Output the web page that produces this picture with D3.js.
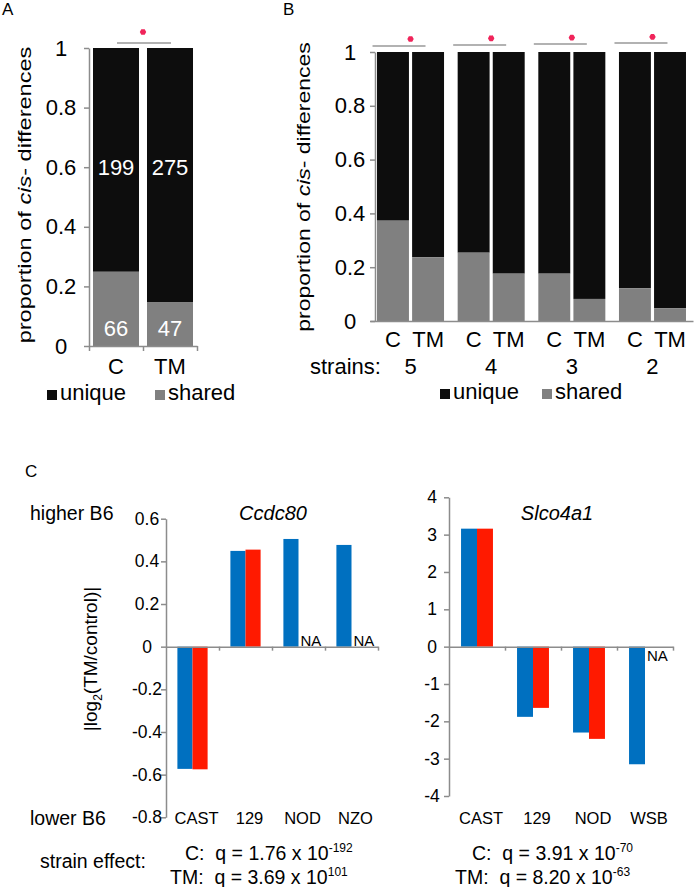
<!DOCTYPE html>
<html>
<head>
<meta charset="utf-8">
<script src="https://cdn.jsdelivr.net/npm/d3@7"></script>
<style>
  body { margin: 0; background: #fff; }
  svg { display: block; font-family: "Liberation Sans", Arial, sans-serif; }
  text { white-space: pre; }
</style>
</head>
<body>
<svg id="fig"></svg>
<script>
// ---- panel A: proportion of cis- differences, all strains
const A_CATS = ['C', 'TM'];
const A_UNIQUE = [199, 275];
const A_SHARED = [66, 47];
const A_TICKS = [0, 0.2, 0.4, 0.6, 0.8, 1];

// ---- panel B: shared proportion by number of strains
const B_STRAINS = ['5', '4', '3', '2'];
const B_CATS = ['C', 'TM'];
const B_SHARED = [
  [0.373, 0.237],
  [0.254, 0.176],
  [0.176, 0.082],
  [0.122, 0.047],
];

// ---- panel C: |log2(TM/control)| per strain
const C_GENES = ['Ccdc80', 'Slco4a1'];
const C_STRAINS = [['CAST', '129', 'NOD', 'NZO'], ['CAST', '129', 'NOD', 'WSB']];
const C_CTRL = [[-0.573, 0.449, 0.505, 0.477], [3.16, -1.88, -2.30, -3.15]];
const C_TM   = [[-0.575, 0.455, null, null], [3.16, -1.64, -2.47, null]];
const C_DOMAIN = [[-0.8, 0.6], [-4, 4]];
const C_TICKS = [
  [-0.8, -0.6, -0.4, -0.2, 0, 0.2, 0.4, 0.6],
  [-4, -3, -2, -1, 0, 1, 2, 3, 4],
];
const C_Q = [
  [['C:', '1.76', '-192'], ['TM:', '3.69', '101']],
  [['C:', '3.91', '-70'], ['TM:', '8.20', '-63']],
];

const W = 694, H = 887;
const AXIS = '#8c8c8c';
const BLACK = '#0d0d0d', GREY = '#808080';
const BLUE = '#0070c0', RED = '#ff1a00';
const STAR = '#f0245a';
const FONT = '"Liberation Sans", Arial, sans-serif';

const svg = d3.select('#fig').attr('width', W).attr('height', H);
svg.append('rect').attr('width', W).attr('height', H).attr('fill', '#fff');

const fmt = d => String(+d.toFixed(1));

function txt(x, y, s, size, anchor = 'start') {
  return svg.append('text')
    .attr('x', x).attr('y', y)
    .attr('font-size', size)
    .attr('text-anchor', anchor)
    .attr('fill', '#000')
    .text(s);
}

function styleAxis(g, size, labelDx) {
  g.attr('font-size', size).attr('font-family', FONT);
  g.select('.domain').attr('stroke', AXIS).attr('stroke-width', 1.5);
  g.selectAll('.tick line').attr('stroke', AXIS).attr('stroke-width', 1.5);
  if (labelDx != null) {
    g.attr('text-anchor', 'middle');
    g.selectAll('.tick text').attr('x', labelDx).attr('fill', '#000');
  }
}

function rotLabel(x, y, size, stretch, build) {
  const t = svg.append('text')
    .attr('transform', `translate(${x},${y}) rotate(-90) scale(${stretch},1)`)
    .attr('font-size', size)
    .attr('text-anchor', 'middle');
  build(t);
  return t;
}

function asterisk(x, y) {
  svg.append('path')
    .attr('transform', `translate(${x},${y})`)
    .attr('d', d3.symbol(d3.symbolAsterisk, 22)())
    .attr('stroke', STAR).attr('stroke-width', 3).attr('fill', 'none');
}

function legend(x, y, size, gap) {
  // x: left of the black square, y: baseline
  svg.append('rect').attr('x', x).attr('y', y - 10).attr('width', 10).attr('height', 10).attr('fill', BLACK);
  txt(x + 13, y, 'unique', size);
  svg.append('rect').attr('x', x + gap).attr('y', y - 10).attr('width', 10).attr('height', 10).attr('fill', GREY);
  txt(x + gap + 13, y, 'shared', size);
}

// ================= Panel A =================
txt(2, 15, 'A', 17);
{
  const y = d3.scaleLinear().domain([0, 1]).range([346, 48]);
  const x = d3.scaleBand().domain(A_CATS).range([89, 197]).paddingInner(0.148).paddingOuter(0.074);
  const share = A_CATS.map((c, i) => A_SHARED[i] / (A_SHARED[i] + A_UNIQUE[i]));

  svg.append('g').selectAll('rect.u').data(A_CATS).join('rect')
    .attr('x', d => x(d)).attr('width', x.bandwidth())
    .attr('y', y(1)).attr('height', (d, i) => y(share[i]) - y(1))
    .attr('fill', BLACK);
  svg.append('g').selectAll('rect.s').data(A_CATS).join('rect')
    .attr('x', d => x(d)).attr('width', x.bandwidth())
    .attr('y', (d, i) => y(share[i])).attr('height', (d, i) => y(0) - y(share[i]))
    .attr('fill', GREY);

  svg.append('g').attr('transform', 'translate(89,0)')
    .call(d3.axisLeft(y).tickValues(A_TICKS).tickSize(5).tickSizeOuter(0).tickFormat(fmt))
    .call(g => styleAxis(g, 22, -28));
  const edge = d3.scaleLinear().domain([0, A_CATS.length]).range([89, 197]);
  svg.append('g').attr('transform', `translate(0,${y(0)})`)
    .call(d3.axisBottom(edge).tickValues(d3.range(A_CATS.length + 1)).tickSize(5).tickSizeOuter(0).tickFormat(''))
    .call(g => styleAxis(g, 22));

  A_CATS.forEach((c, i) => {
    const cx = x(c) + x.bandwidth() / 2;
    txt(cx, y(0.6) + 8, String(A_UNIQUE[i]), 22, 'middle').attr('fill', '#fff');
    txt(cx, y(0.06) + 8, String(A_SHARED[i]), 22, 'middle').attr('fill', '#fff');
    txt(cx, 374, c, 22, 'middle');
  });

  const mid = (x(A_CATS[0]) + x(A_CATS[1]) + x.bandwidth()) / 2;
  svg.append('line').attr('x1', mid - 26).attr('x2', mid + 28).attr('y1', 43).attr('y2', 43)
    .attr('stroke', '#999').attr('stroke-width', 1.3);
  asterisk(mid, 32);

  rotLabel(31, 195, 19, 1.24, t => {
    t.append('tspan').text('proportion of ');
    t.append('tspan').attr('font-style', 'italic').text('cis');
    t.append('tspan').text('- differences');
  });
  legend(47, 400, 22, 108);
}

// ================= Panel B =================
txt(283, 15, 'B', 17);
{
  const y = d3.scaleLinear().domain([0, 1]).range([321, 52]);
  const gx = d3.scaleBand().domain(B_STRAINS).range([370, 693]).paddingInner(0.169).paddingOuter(0.087);
  const ix = d3.scaleBand().domain(B_CATS).range([0, gx.bandwidth()]).paddingInner(0.09);

  const groups = svg.append('g').selectAll('g').data(B_STRAINS).join('g')
    .attr('transform', d => `translate(${gx(d)},0)`);
  groups.selectAll('rect.u').data((d, i) => B_SHARED[i].map((v, j) => ({ cat: B_CATS[j], v })))
    .join('rect').attr('class', 'u')
    .attr('x', d => ix(d.cat)).attr('width', ix.bandwidth())
    .attr('y', y(1)).attr('height', d => y(d.v) - y(1))
    .attr('fill', BLACK);
  groups.selectAll('rect.s').data((d, i) => B_SHARED[i].map((v, j) => ({ cat: B_CATS[j], v })))
    .join('rect').attr('class', 's')
    .attr('x', d => ix(d.cat)).attr('width', ix.bandwidth())
    .attr('y', d => y(d.v)).attr('height', d => y(0) - y(d.v))
    .attr('fill', GREY);

  svg.append('g').attr('transform', 'translate(375,0)')
    .call(d3.axisLeft(y).tickValues(A_TICKS).tickSize(5).tickSizeOuter(0).tickFormat(fmt))
    .call(g => styleAxis(g, 22, -25));
  const edge = d3.scaleLinear().domain([0, 1]).range([370, 693]);
  svg.append('g').attr('transform', `translate(0,${y(0)})`)
    .call(d3.axisBottom(edge).tickValues([]).tickSizeOuter(0))
    .call(g => styleAxis(g, 22));

  B_STRAINS.forEach((s, i) => {
    B_CATS.forEach(c => txt(gx(s) + ix(c) + ix.bandwidth() / 2, 347, c, 22, 'middle'));
    const mid = gx(s) + gx.bandwidth() / 2;
    txt(mid, 374, s, 22, 'middle');
    svg.append('line').attr('x1', mid - 38).attr('x2', mid + 15).attr('y1', 46 - i).attr('y2', 46 - i)
      .attr('stroke', '#999').attr('stroke-width', 1.3);
    asterisk(mid, 39 - i * 0.7);
  });
  txt(310, 374, 'strains:', 22);

  rotLabel(310, 187, 19, 1.21, t => {
    t.append('tspan').text('proportion of ');
    t.append('tspan').attr('font-style', 'italic').text('cis');
    t.append('tspan').text('- differences');
  });
  legend(440, 399, 22, 102);
}

// ================= Panel C =================
txt(25, 477, 'C', 17);
txt(30, 520, 'higher B6', 19.5);
txt(30, 825, 'lower B6', 19.5);
txt(40, 868, 'strain effect:', 19.5);

rotLabel(97, 659, 19, 1, t => {
  t.append('tspan').text('|log');
  t.append('tspan').attr('font-size', 12).attr('dy', 5).text('2');
  t.append('tspan').attr('dy', -5).text('(TM/control)|');
});

const C_GEO = [
  { x0: 166, x1: 378, top: 518.7, bot: 817.3, labDx: -19, title: 273, qx: [185, 170] },
  { x0: 449, x1: 673, top: 497.3, bot: 796, labDx: -17, title: 557, qx: [472, 455] },
];

C_GENES.forEach((gene, k) => {
  const G = C_GEO[k];
  const y = d3.scaleLinear().domain(C_DOMAIN[k]).range([G.bot, G.top]);
  const x = d3.scaleBand().domain(C_STRAINS[k]).range([G.x0, G.x1]).paddingInner(0.43).paddingOuter(0.215);
  const ix = d3.scaleBand().domain(['C', 'TM']).range([0, x.bandwidth()]);
  const rows = C_STRAINS[k].map((s, i) => ({ s, c: C_CTRL[k][i], t: C_TM[k][i] }));

  const bars = svg.append('g');
  bars.selectAll('rect.c').data(rows).join('rect')
    .attr('x', d => x(d.s) + ix('C')).attr('width', ix.bandwidth())
    .attr('y', d => y(Math.max(0, d.c))).attr('height', d => Math.abs(y(d.c) - y(0)))
    .attr('fill', BLUE);
  bars.selectAll('rect.t').data(rows.filter(d => d.t != null)).join('rect')
    .attr('x', d => x(d.s) + ix('TM')).attr('width', ix.bandwidth())
    .attr('y', d => y(Math.max(0, d.t))).attr('height', d => Math.abs(y(d.t) - y(0)))
    .attr('fill', RED);

  rows.filter(d => d.t == null).forEach(d => {
    txt(x(d.s) + ix('TM') + 2, d.c > 0 ? y(0) - 1 : y(0) + 14, 'NA', 15);
  });

  svg.append('g').attr('transform', `translate(${G.x0},0)`)
    .call(d3.axisLeft(y).tickValues(C_TICKS[k]).tickSize(5).tickSizeOuter(0).tickFormat(fmt))
    .call(g => styleAxis(g, 17.5, G.labDx));
  const edge = d3.scaleLinear().domain([0, rows.length]).range([G.x0, G.x1]);
  svg.append('g').attr('transform', `translate(0,${y(0)})`)
    .call(d3.axisBottom(edge).tickValues(d3.range(1, rows.length + 1)).tickSize(4).tickSizeOuter(0).tickFormat(''))
    .call(g => styleAxis(g, 17));

  rows.forEach(d => txt(x(d.s) + x.bandwidth() / 2 + 4, 824, d.s, 16.5, 'middle'));

  txt(G.title, 520, gene, 20, 'middle').attr('font-style', 'italic');

  C_Q[k].forEach((q, j) => {
    const t = txt(G.qx[j], j === 0 ? 860 : 884, `${q[0]}  q = ${q[1]} x 10`, 19.5);
    t.append('tspan').attr('font-size', 12).attr('dy', -8).text(q[2]);
  });
});
</script>
</body>
</html>
